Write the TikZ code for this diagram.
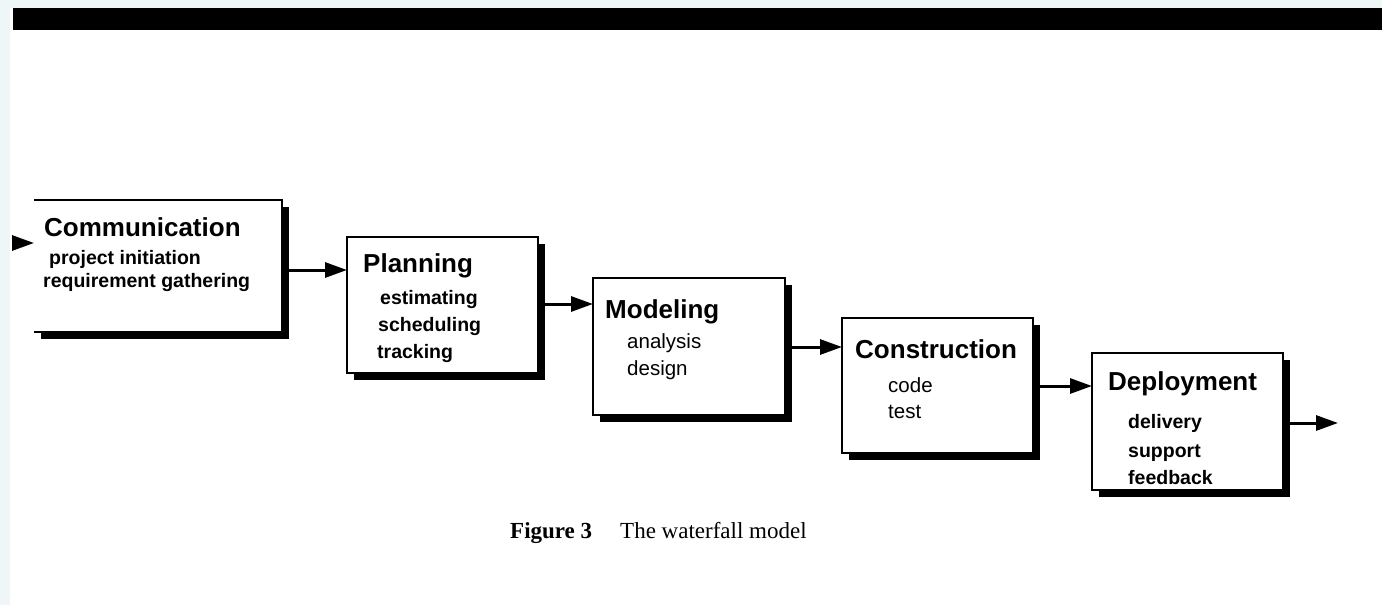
\documentclass[tikz,border=0pt]{standalone}
\usepackage{fontspec}
\newfontfamily\sansf{Liberation Sans}
\newfontfamily\seriff{Liberation Serif}
\usetikzlibrary{arrows.meta,shadows}
\definecolor{bgblue}{RGB}{238,246,248}
\begin{document}
\begin{tikzpicture}[x=1pt,y=-1pt,
  box/.style={fill=white,draw=black,line width=1.5pt,inner sep=0pt,outer sep=0pt,anchor=north west,
    drop shadow={shadow xshift=7pt,shadow yshift=-7pt,fill=black,opacity=1}},
  head/.style={anchor=base west,inner sep=0pt,font=\sansf\bfseries\fontsize{26}{30}\selectfont},
  itemb/.style={anchor=base west,inner sep=0pt,font=\sansf\bfseries\fontsize{19.5}{23}\selectfont},
  itemr/.style={anchor=base west,inner sep=0pt,font=\sansf\fontsize{20.5}{24}\selectfont},
  arr/.style={line width=3pt,-{Triangle[length=22pt,width=15pt]}}]
\useasboundingbox (0,0) rectangle (1382,605);
\fill[bgblue] (0,0) rectangle (1382,605);
\fill[white] (10,8) rectangle (1382,605);
\fill[black] (13,8) rectangle (1382,30);
% boxes
\node[box,draw=none,minimum width=248pt,minimum height=132pt] (C) at (34,200) {};
\draw[line width=1.5pt] (C.north west) -- (C.north east) -- (C.south east) -- (C.south west);
\node[box,minimum width=191pt,minimum height=136pt] (P) at (347,237) {};
\node[box,minimum width=192pt,minimum height=137pt] (M) at (593,278) {};
\node[box,minimum width=191pt,minimum height=135pt] (K) at (842,318) {};
\node[box,minimum width=191pt,minimum height=137pt] (D) at (1092,353) {};
% texts
\node[head] (Ct) at (44,236) {Communication};
\node[itemb] (C1) at (49,264) {project initiation};
\node[itemb] (C2) at (43,287) {requirement gathering};
\node[head] (Pt) at (363,272) {Planning};
\node[itemb] (P1) at (380,304) {estimating};
\node[itemb] (P2) at (378,331) {scheduling};
\node[itemb] (P3) at (377,358) {tracking};
\node[head] (Mt) at (605,318) {Modeling};
\node[itemr] (M1) at (627,348) {analysis};
\node[itemr] (M2) at (627,375) {design};
\node[head] (Kt) at (855,358) {Construction};
\node[itemr] (K1) at (888,392) {code};
\node[itemr] (K2) at (888,418) {test};
\node[head] (Dt) at (1108,390) {Deployment};
\node[itemb] (D1) at (1128,428) {delivery};
\node[itemb] (D2) at (1128,457) {support};
\node[itemb] (D3) at (1128,484) {feedback};
% arrows
\coordinate (in) at (12,243);
\coordinate (out) at (1338,423);
\draw[arr] (in) -- (in -| C.west);
\draw[arr] (C.east |- 0,270) -- (P.west |- 0,270);
\draw[arr] (P.east |- 0,304) -- (M.west |- 0,304);
\draw[arr] (M.east |- 0,347) -- (K.west |- 0,347);
\draw[arr] (K.east |- 0,386) -- (D.west |- 0,386);
\draw[arr] (D.east |- out) -- (out);
% caption
\node[anchor=base west,inner sep=0pt,font=\seriff\bfseries\fontsize{23}{27}\selectfont] (fig) at (510,538) {Figure 3};
\node[anchor=base west,inner sep=0pt,font=\seriff\fontsize{23}{27}\selectfont] (cap) at (620,538) {The waterfall model};
\end{tikzpicture}
\end{document}
